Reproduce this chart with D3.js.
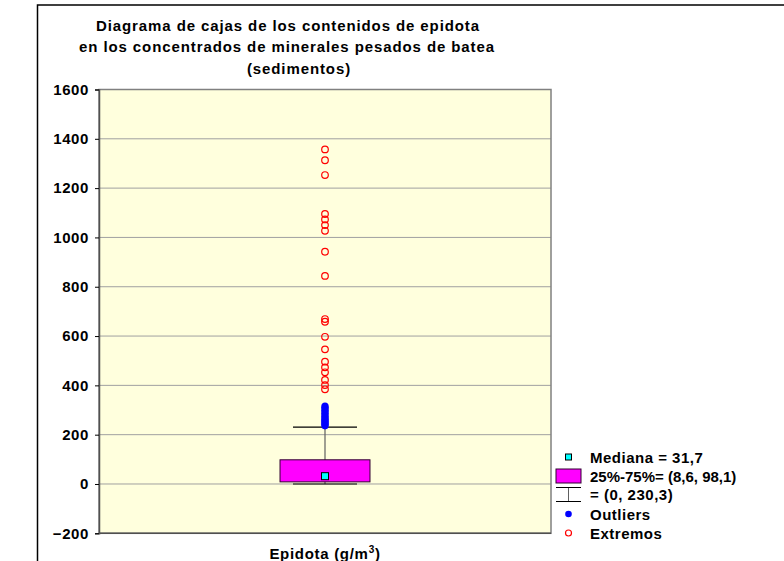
<!DOCTYPE html>
<html>
<head>
<meta charset="utf-8">
<script src="https://cdn.jsdelivr.net/npm/d3@7"></script>
<style>
  body { margin: 0; background: #fff; }
  text { font-family: "Liberation Sans", Arial, sans-serif; font-weight: bold; }
</style>
</head>
<body>
<div id="plot"></div>
<script>
// datos
var titleLines = ["Diagrama de cajas de los contenidos de epidota",
                  "en los concentrados de minerales pesados de batea",
                  "(sedimentos)"];
var categories = ["Epidota"];
var yTicks = [-200, 0, 200, 400, 600, 800, 1000, 1200, 1400, 1600];
var median = 31.7;
var quartiles = [8.6, 98.1];
var whiskers = [0, 230.3];
var outliers = [236, 240, 244, 248, 253, 258, 263, 268, 274, 280, 287, 293, 299, 305, 311, 316];
var extremes = [384, 401, 422, 453, 473, 496, 546, 597, 658, 669, 844, 942, 1027, 1050, 1073, 1095, 1253, 1313, 1357];
var legendLabels = ["Mediana = 31,7", "25%-75%= (8,6, 98,1)", "= (0, 230,3)", "Outliers", "Extremos"];

var width = 784, height = 561;
var plotLeft = 99, plotRight = 551, plotTop = 89.5, plotBottom = 533.3;

var svg = d3.select("#plot")
  .append("svg")
  .attr("width", width)
  .attr("height", height);

// marco exterior
svg.append("rect")
  .attr("x", 37.5)
  .attr("y", 5)
  .attr("width", 800)
  .attr("height", 600)
  .style("fill", "#fff")
  .style("stroke", "#000")
  .style("stroke-width", 1.5);

var y = d3.scaleLinear()
  .domain([-200, 1600])
  .range([plotBottom, plotTop]);

var x = d3.scaleBand()
  .domain(categories)
  .range([plotLeft, plotRight])
  .padding(0.668);

var plotW = plotRight - plotLeft;

// fondo del area de grafico
svg.append("rect")
  .attr("x", plotLeft)
  .attr("y", y(1600))
  .attr("width", plotW)
  .attr("height", y(-200) - y(1600))
  .style("fill", "#ffffdd");

// lineas de rejilla
svg.selectAll(".grid")
  .data(yTicks.filter(function(d) { return d > -200 && d < 1600; }))
  .join("line")
  .attr("class", "grid")
  .attr("x1", plotLeft)
  .attr("x2", plotRight)
  .attr("y1", function(d) { return y(d); })
  .attr("y2", function(d) { return y(d); })
  .style("stroke", "#a0a0a0")
  .style("stroke-width", 1);

// borde del area
svg.append("rect")
  .attr("x", plotLeft)
  .attr("y", y(1600))
  .attr("width", plotW)
  .attr("height", y(-200) - y(1600))
  .style("fill", "none")
  .style("stroke", "#808080")
  .style("stroke-width", 1.5);

// eje y
var yAxis = d3.axisLeft(y)
  .tickValues(yTicks)
  .tickSize(4)
  .tickPadding(6)
  .tickFormat(d3.format("d"));

var gy = svg.append("g")
  .attr("transform", "translate(" + plotLeft + ",0)")
  .call(yAxis);
gy.select(".domain").style("stroke", "#505050").style("stroke-width", 1.5);
gy.selectAll(".tick line").style("stroke", "#000");
gy.selectAll(".tick text")
  .style("font-size", "15px")
  .style("font-family", "'Liberation Sans', Arial, sans-serif")
  .style("font-weight", "bold")
  .style("letter-spacing", "0.6px")
  .style("fill", "#000");

// eje x inferior
svg.append("line")
  .attr("x1", plotLeft)
  .attr("x2", plotRight)
  .attr("y1", y(-200))
  .attr("y2", y(-200))
  .style("stroke", "#505050")
  .style("stroke-width", 1.5);

// titulo
var titleX = [288, 287, 299];
svg.selectAll(".title")
  .data(titleLines)
  .join("text")
  .attr("class", "title")
  .attr("x", function(d, i) { return titleX[i]; })
  .attr("y", function(d, i) { return 30.5 + i * 21.5; })
  .attr("text-anchor", "middle")
  .style("font-size", "15px")
  .style("letter-spacing", "0.9px")
  .text(function(d) { return d; });

var cx = x(categories[0]) + x.bandwidth() / 2;

// etiqueta x
var xl = svg.append("text")
  .attr("x", cx)
  .attr("y", 559)
  .attr("text-anchor", "middle")
  .style("font-size", "15px")
  .style("letter-spacing", "0.7px");
xl.append("tspan").text("Epidota (g/m");
xl.append("tspan").attr("dy", -6).style("font-size", "10px").text("3");
xl.append("tspan").attr("dy", 6).text(")");

var capHalf = 32;

// bigotes
svg.append("line")
  .attr("x1", cx).attr("x2", cx)
  .attr("y1", y(whiskers[1])).attr("y2", y(whiskers[0]))
  .style("stroke", "#606060").style("stroke-width", 1.2);

svg.selectAll(".cap")
  .data(whiskers)
  .join("line")
  .attr("class", "cap")
  .attr("x1", cx - capHalf).attr("x2", cx + capHalf)
  .attr("y1", function(d) { return y(d); })
  .attr("y2", function(d) { return y(d); })
  .style("stroke", "#000").style("stroke-width", 1.2);

// caja
svg.append("rect")
  .attr("x", x(categories[0]))
  .attr("y", y(quartiles[1]))
  .attr("width", x.bandwidth())
  .attr("height", y(quartiles[0]) - y(quartiles[1]))
  .style("fill", "#ff00ff")
  .style("stroke", "#300030")
  .style("stroke-width", 1);

// mediana
svg.append("rect")
  .attr("x", cx - 3.5)
  .attr("y", y(median) - 3.5)
  .attr("width", 7)
  .attr("height", 7)
  .style("fill", "#00ffff")
  .style("stroke", "#000")
  .style("stroke-width", 1);

// outliers
svg.selectAll(".outlier")
  .data(outliers)
  .join("circle")
  .attr("class", "outlier")
  .attr("cx", cx)
  .attr("cy", function(d) { return y(d); })
  .attr("r", 3.6)
  .style("fill", "#0000ff");

// extremos
svg.selectAll(".extreme")
  .data(extremes)
  .join("circle")
  .attr("class", "extreme")
  .attr("cx", cx)
  .attr("cy", function(d) { return y(d); })
  .attr("r", 3.3)
  .style("fill", "none")
  .style("stroke", "#ff0000")
  .style("stroke-width", 1.2);

// leyenda
var legY = [457, 476, 494.5, 514, 533];
var legX = 568.5;

svg.selectAll(".legtext")
  .data(legendLabels)
  .join("text")
  .attr("class", "legtext")
  .attr("x", 590)
  .attr("y", function(d, i) { return legY[i] + 5.5; })
  .style("font-size", "15px")
  .style("letter-spacing", function(d, i) { return i == 1 ? "0px" : "0.5px"; })
  .text(function(d) { return d; });

svg.append("rect")
  .attr("x", legX - 3).attr("y", legY[0] - 3)
  .attr("width", 6).attr("height", 6)
  .style("fill", "#00ffff").style("stroke", "#000").style("stroke-width", 1);

svg.append("rect")
  .attr("x", legX - 12.5).attr("y", legY[1] - 7)
  .attr("width", 25).attr("height", 14)
  .style("fill", "#ff00ff").style("stroke", "#300030").style("stroke-width", 1);

svg.append("line")
  .attr("x1", legX).attr("x2", legX)
  .attr("y1", legY[2] - 7).attr("y2", legY[2] + 7)
  .style("stroke", "#606060");
[legY[2] - 7, legY[2] + 7].forEach(function(v) {
  svg.append("line")
    .attr("x1", legX - 12.5).attr("x2", legX + 12.5)
    .attr("y1", v).attr("y2", v)
    .style("stroke", "#000");
});

svg.append("circle")
  .attr("cx", legX).attr("cy", legY[3]).attr("r", 3.3)
  .style("fill", "#0000ff");

svg.append("circle")
  .attr("cx", legX).attr("cy", legY[4]).attr("r", 3)
  .style("fill", "none").style("stroke", "#ff0000").style("stroke-width", 1.2);
</script>
</body>
</html>
